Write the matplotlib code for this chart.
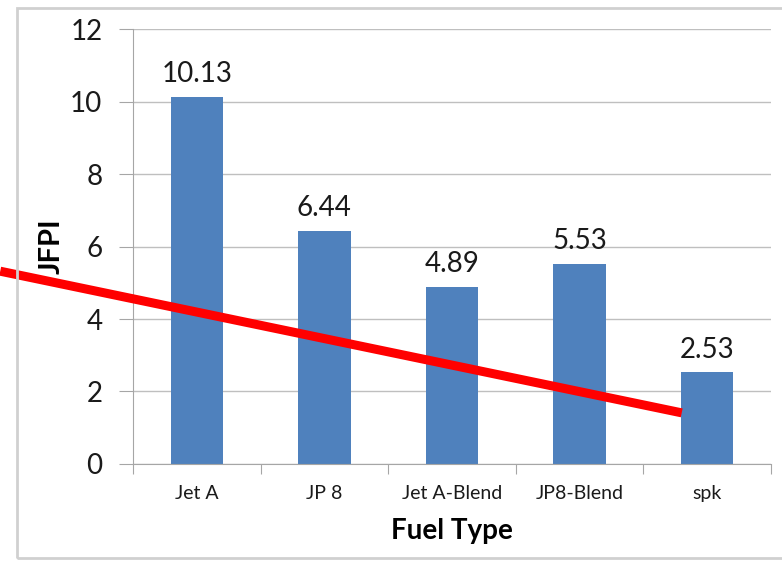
import numpy as np
import matplotlib
matplotlib.use("Agg")
import matplotlib.pyplot as plt
from matplotlib.patches import Rectangle

fuels = ['Jet A', 'JP 8', 'Jet A-Blend', 'JP8-Blend', 'spk']
jfpi = [10.13, 6.44, 4.89, 5.53, 2.53]
yticks = [0, 2, 4, 6, 8, 10, 12]

# hand-drawn trend stroke, in data units (x = category index)
trend_x = [-1.54, 3.80]
trend_y = [5.32, 1.41]

plt.rcParams['font.family'] = ['Lato', 'DejaVu Sans']

fig = plt.figure(figsize=(7.82, 5.61), dpi=100)
ax = fig.add_axes([0.170, 0.173, 0.816, 0.775])

x = np.arange(len(fuels))
bars = ax.bar(x, jfpi, width=0.41, color='#4F81BD', zorder=2)
for b, v in zip(bars, jfpi):
    ax.annotate(f'{v:.2f}', (b.get_x() + b.get_width() / 2, v),
                xytext=(0, 7), textcoords='offset points',
                ha='center', va='bottom', fontsize=20, color='#1a1a1a')

ax.set_xlim(-0.5, len(fuels) - 0.5)
ax.set_ylim(0, 12)
ax.set_yticks(yticks)
ax.set_yticklabels([str(t) for t in yticks], fontsize=20, color='#1a1a1a')
ax.yaxis.grid(True, color='#BFBFBF', lw=1, zorder=0)
ax.tick_params(axis='y', length=10, color='#A6A6A6', pad=12)

# category ticks sit between the bars
ax.set_xticks(np.arange(-0.5, len(fuels)), minor=False)
ax.set_xticklabels([])
ax.set_xticks(x, minor=True)
ax.set_xticklabels(fuels, minor=True, fontsize=14, color='#1a1a1a')
ax.tick_params(axis='x', which='major', length=7, color='#A6A6A6')
ax.tick_params(axis='x', which='minor', length=0, pad=15)

for s in ['top', 'right']:
    ax.spines[s].set_visible(False)
for s in ['left', 'bottom']:
    ax.spines[s].set_color('#A6A6A6')

ax.set_xlabel('Fuel Type', fontsize=20, fontweight='bold', labelpad=12)
ax.set_ylabel('JFPI', fontsize=21, fontweight='bold', labelpad=4)

ax.plot(trend_x, trend_y, color='#FF0000', lw=6.5, solid_capstyle='butt',
        clip_on=False, zorder=3)

# chart area frame
fig.patches.append(Rectangle((17 / 782, 3 / 561), 1.0, 550 / 561,
                             transform=fig.transFigure, fill=False,
                             edgecolor='#D0D0D0', lw=2))

fig.savefig('out.png', dpi=100)
